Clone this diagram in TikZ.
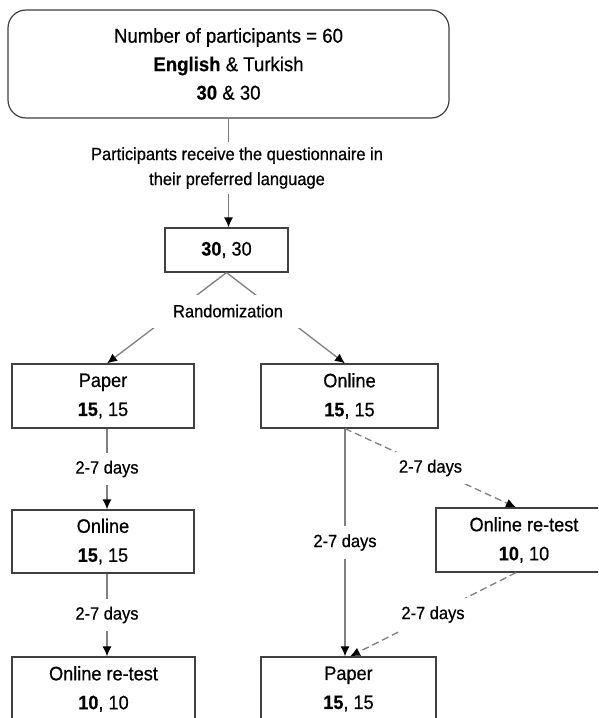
\documentclass[tikz,border=0pt]{standalone}
\usepackage{fontspec}
\setmainfont{Liberation Sans}[FakeStretch=0.93, UprightFeatures={FakeBold=0.6}, BoldFeatures={FakeBold=0.4}]
\usetikzlibrary{arrows.meta}
\definecolor{boxc}{RGB}{64,64,64}
\definecolor{linec}{RGB}{128,128,128}
\begin{document}
\begin{tikzpicture}[x=1pt,y=-1pt,
  box/.style={draw=boxc, line width=1.2pt, align=center, inner sep=0pt,
    font=\fontsize{19.5}{29}\selectfont},
  lbl/.style={fill=white, inner xsep=4pt, inner ysep=8pt,
    font=\fontsize{17.7}{25}\selectfont},
  conn/.style={draw=linec, line width=1.3pt},
  arr/.style={conn, -{Latex[length=10pt,width=9pt,color=black]}},
  dsh/.style={arr, dash pattern=on 7pt off 4pt}]
\useasboundingbox (0,0) rectangle (598,718);
\clip (0,0) rectangle (598,718);
\fill[white] (0,0) rectangle (598,718);

\node[box, rounded corners=18pt, minimum width=441pt, minimum height=108pt,
  font=\fontsize{20}{28.5}\selectfont] (top) at (228.5,64)
  {Number of participants = 60\\ \textbf{English} \& Turkish\\ \textbf{30} \& 30};
\node[align=center, inner xsep=2pt, inner ysep=5pt,
  font=\fontsize{17.7}{25}\selectfont] (ptext) at (237,168)
  {Participants receive the questionnaire in\\ their preferred language};
\node[box, minimum width=123pt, minimum height=44pt] (n30) at (226.5,250)
  {\textbf{30}, 30};

\node[box, minimum width=182pt, minimum height=64pt] (paper1) at (103,396)
  {Paper\\ \textbf{15}, 15};
\node[box, minimum width=177pt, minimum height=64pt] (online2) at (349.5,396)
  {Online\\ \textbf{15}, 15};
\node[box, minimum width=182pt, minimum height=63pt] (online1) at (103,541.5)
  {Online\\ \textbf{15}, 15};
\node[box, minimum width=176pt, minimum height=64pt] (retest) at (524,540)
  {Online re-test\\ \textbf{10}, 10};
\node[box, minimum width=183pt, minimum height=64pt] (retest2) at (103.5,689)
  {Online re-test\\ \textbf{10}, 10};
\node[box, minimum width=175pt, minimum height=64pt] (paper2) at (348.5,689)
  {Paper\\ \textbf{15}, 15};

\coordinate (xl) at (107,0);
\coordinate (xr) at (345,0);
\coordinate (xd) at (516,0);
\coordinate (xe) at (350,0);

\draw[conn] (top.south) -- (top.south |- ptext.north);
\draw[arr] (top.south |- ptext.south) -- (top.south |- n30.north);

\draw[arr] (n30.south) -- (paper1.north -| xl);
\draw[arr] (n30.south) -- (online2.north -| xr);
\node[lbl, minimum width=160pt, minimum height=33pt] (rand) at (228,311) {Randomization};

\draw[arr] (paper1.south -| xl) -- node[lbl] (l1) {2-7 days} (online1.north -| xl);
\draw[arr] (online1.south -| xl) -- node[lbl] (l2) {2-7 days} (retest2.north -| xl);
\draw[arr] (online2.south -| xr) -- node[lbl] (l3) {2-7 days} (paper2.north -| xr);
\draw[dsh] (online2.south -| xr) -- node[lbl] (l4) {2-7 days} (retest.north -| xd);
\draw[dsh] (retest.south -| xd) -- node[lbl] (l5) {2-7 days} (paper2.north -| xe);
\end{tikzpicture}
\end{document}
